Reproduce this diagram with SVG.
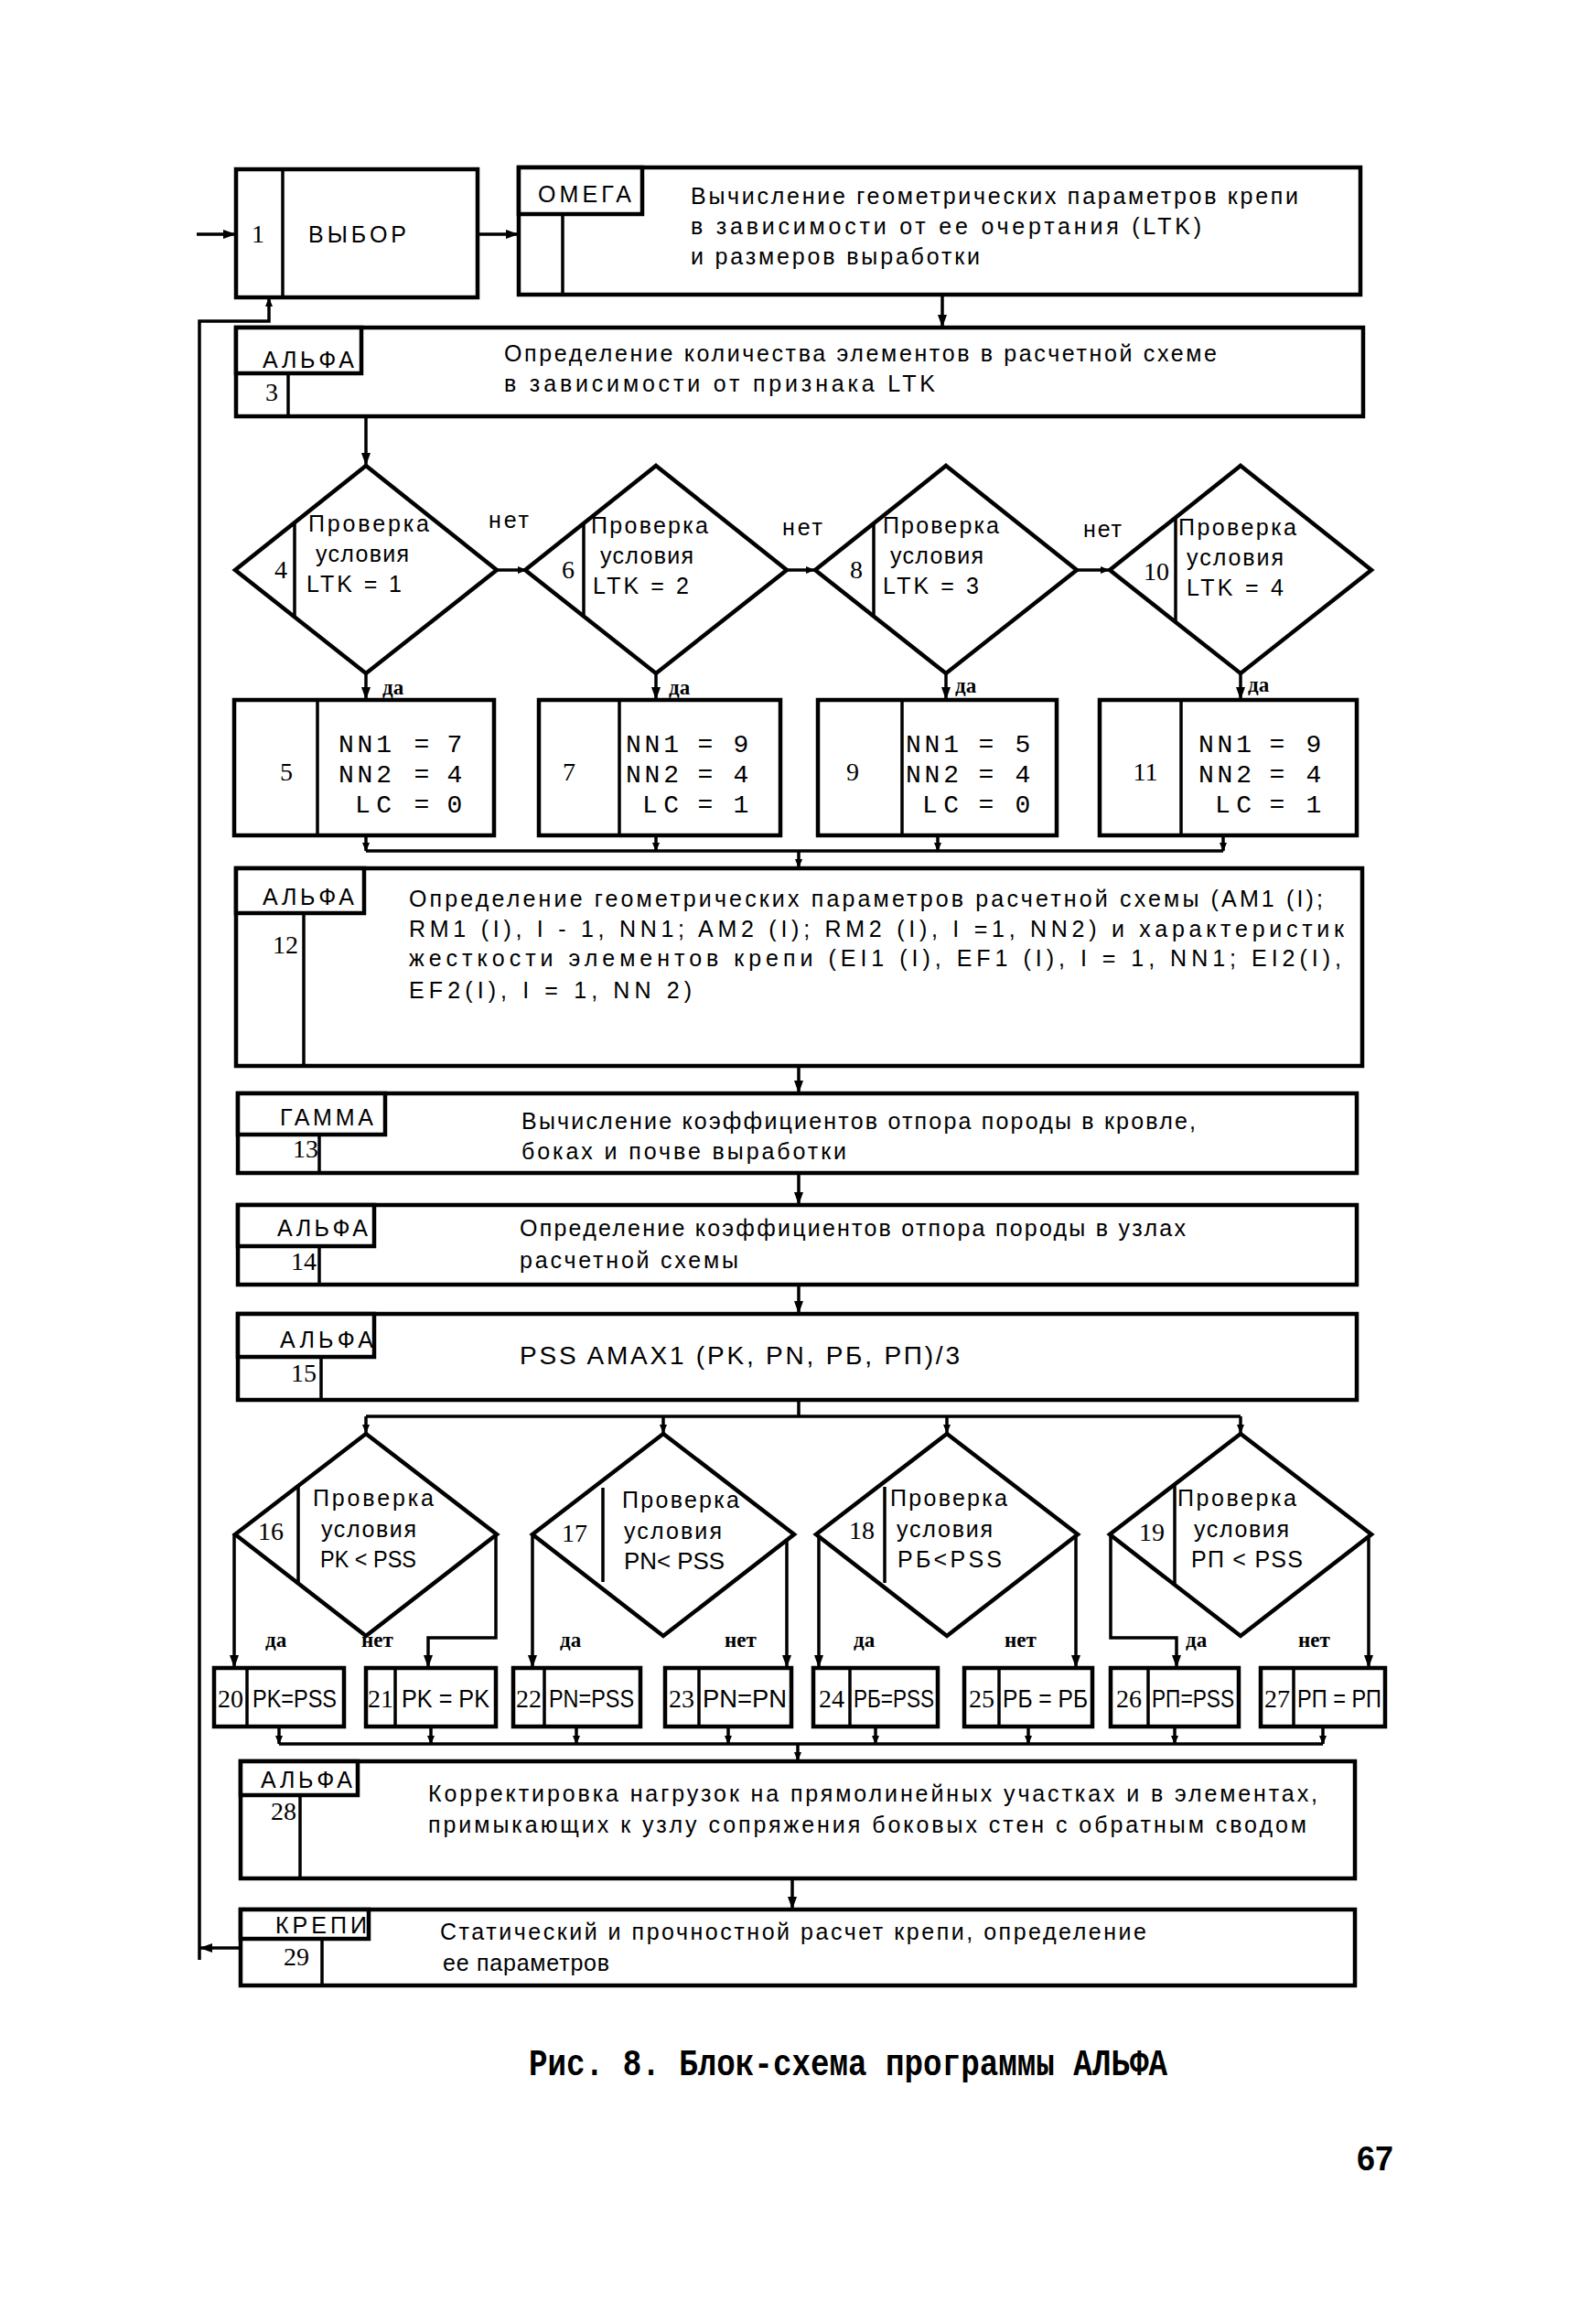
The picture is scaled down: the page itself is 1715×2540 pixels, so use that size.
<svg xmlns="http://www.w3.org/2000/svg" width="1715" height="2540" viewBox="0 0 1715 2540">
<style>
.b{fill:#fff;stroke:#000;stroke-width:4.5}
.d{fill:none;stroke:#000;stroke-width:3.5}
.c{fill:none;stroke:#000;stroke-width:3.5}
.t{font-family:"Liberation Sans",Arial,sans-serif;font-size:25px;fill:#000}
.n{font-family:"Liberation Serif","Times New Roman",serif;font-size:28px;fill:#000}
.m{font-family:"Liberation Mono","Courier New",monospace;font-size:28px;fill:#000}
.y{font-family:"Liberation Serif","Times New Roman",serif;font-size:23px;font-weight:bold;fill:#000}
.q{font-family:"Liberation Sans",Arial,sans-serif;font-size:28px;fill:#000}
.mid{text-anchor:middle}
.end{text-anchor:end}
</style>
<defs>
<marker id="a" markerWidth="14" markerHeight="10" refX="13" refY="5" orient="auto" markerUnits="userSpaceOnUse"><path d="M0,0 L14,5 L0,10 z" fill="#000"/></marker>
<marker id="s" markerWidth="10" markerHeight="8" refX="9" refY="4" orient="auto" markerUnits="userSpaceOnUse"><path d="M0,0 L10,4 L0,8 z" fill="#000"/></marker>
</defs>
<rect width="1715" height="2540" fill="#fff"/>

<g id="connectors">
<path class="c" d="M215,256 H257" marker-end="url(#a)"/>
<path class="c" d="M522,256 H566" marker-end="url(#a)"/>
<path class="c" d="M1030,322 V357" marker-end="url(#a)"/>
<path class="c" d="M400,455 V508" marker-end="url(#a)"/>
<path class="c" d="M543,623 H575" marker-end="url(#s)"/>
<path class="c" d="M860,623 H890" marker-end="url(#s)"/>
<path class="c" d="M1177,623 H1212" marker-end="url(#s)"/>
<path class="c" d="M400,736 V764" marker-end="url(#a)"/>
<path class="c" d="M717,736 V764" marker-end="url(#a)"/>
<path class="c" d="M1034,736 V764" marker-end="url(#a)"/>
<path class="c" d="M1356,736 V764" marker-end="url(#a)"/>
<path class="c" d="M400,913 V930" marker-end="url(#s)"/>
<path class="c" d="M717,913 V930" marker-end="url(#s)"/>
<path class="c" d="M1025,913 V930" marker-end="url(#s)"/>
<path class="c" d="M1337,913 V930" marker-end="url(#s)"/>
<path class="c" d="M400,930 H1337"/>
<path class="c" d="M873,930 V948" marker-end="url(#s)"/>
<path class="c" d="M873,1165 V1194" marker-end="url(#a)"/>
<path class="c" d="M873,1282 V1316" marker-end="url(#a)"/>
<path class="c" d="M873,1404 V1435" marker-end="url(#a)"/>
<path class="c" d="M873,1530 V1548"/>
<path class="c" d="M400,1548 H1356"/>
<path class="c" d="M400,1548 V1566" marker-end="url(#s)"/>
<path class="c" d="M725,1548 V1566" marker-end="url(#s)"/>
<path class="c" d="M1035,1548 V1566" marker-end="url(#s)"/>
<path class="c" d="M1356,1548 V1566" marker-end="url(#s)"/>
<path class="c" d="M256,1677 V1822" marker-end="url(#a)"/>
<path class="c" d="M542,1677 V1790 H468 V1822" marker-end="url(#a)"/>
<path class="c" d="M582,1677 V1822" marker-end="url(#a)"/>
<path class="c" d="M860,1684 V1822" marker-end="url(#a)"/>
<path class="c" d="M895,1678 V1822" marker-end="url(#a)"/>
<path class="c" d="M1176,1678 V1822" marker-end="url(#a)"/>
<path class="c" d="M1214,1677 V1790 H1286 V1822" marker-end="url(#a)"/>
<path class="c" d="M1496,1678 V1822" marker-end="url(#a)"/>
<path class="c" d="M305,1887 V1906" marker-end="url(#s)"/>
<path class="c" d="M471,1887 V1906" marker-end="url(#s)"/>
<path class="c" d="M630,1887 V1906" marker-end="url(#s)"/>
<path class="c" d="M796,1887 V1906" marker-end="url(#s)"/>
<path class="c" d="M957,1887 V1906" marker-end="url(#s)"/>
<path class="c" d="M1124,1887 V1906" marker-end="url(#s)"/>
<path class="c" d="M1284,1887 V1906" marker-end="url(#s)"/>
<path class="c" d="M1446,1887 V1906" marker-end="url(#s)"/>
<path class="c" d="M305,1906 H1446"/>
<path class="c" d="M872,1906 V1924" marker-end="url(#s)"/>
<path class="c" d="M866,2053 V2086" marker-end="url(#a)"/>
<path class="c" d="M263,2129 H219" marker-end="url(#a)"/>
<path class="c" d="M218,2142 V351 H294 V326" marker-end="url(#s)"/>
<text class="t" x="534" y="577" textLength="44">нет</text>
<text class="t" x="855" y="585" textLength="44">нет</text>
<text class="t" x="1184" y="587" textLength="42">нет</text>
<text class="y" x="418" y="759">да</text>
<text class="y" x="731" y="759">да</text>
<text class="y" x="1044" y="757">да</text>
<text class="y" x="1364" y="756">да</text>
<text class="y" x="290" y="1800">да</text>
<text class="y" x="395" y="1800">нет</text>
<text class="y" x="612" y="1800">да</text>
<text class="y" x="792" y="1800">нет</text>
<text class="y" x="933" y="1800">да</text>
<text class="y" x="1098" y="1800">нет</text>
<text class="y" x="1296" y="1800">да</text>
<text class="y" x="1419" y="1800">нет</text>
</g>

<g id="n1">
<rect class="b" x="258" y="185" width="264" height="140"/>
<path class="d" d="M309,185 V325"/>
<text class="n" x="275" y="265">1</text>
<text class="t" x="337" y="265" font-size="27" textLength="107">ВЫБОР</text>
</g>

<g id="n2">
<rect class="b" x="567" y="183" width="920" height="139"/>
<rect class="b" x="567" y="183" width="135" height="51"/>
<path class="d" d="M615,234 V322"/>
<text class="t" x="588" y="221" textLength="102">ОМЕГА</text>
<text class="t" x="755" y="223" textLength="664">Вычисление геометрических параметров крепи</text>
<text class="t" x="755" y="256" textLength="558">в зависимости от ее очертания (LTK)</text>
<text class="t" x="755" y="289" textLength="316">и размеров выработки</text>
</g>

<g id="n3">
<rect class="b" x="258" y="358" width="1232" height="97"/>
<rect class="b" x="258" y="358" width="137" height="50"/>
<path class="d" d="M315,408 V455"/>
<text class="t" x="287" y="402" textLength="100">АЛЬФА</text>
<text class="n" x="290" y="438">3</text>
<text class="t" x="551" y="395" textLength="779">Определение количества элементов в расчетной схеме</text>
<text class="t" x="551" y="428" textLength="471">в зависимости от признака LTK</text>
</g>

<g id="n4">
<polygon class="b" points="400,509 543,623 400,736 257,623"/>
<path class="d" d="M322,572 V674"/>
<text class="n" x="300" y="632">4</text>
<text class="t" x="337" y="581" textLength="132">Проверка</text>
<text class="t" x="345" y="614" textLength="102">условия</text>
<text class="t" x="335" y="647" textLength="104">LTK = 1</text>
</g>
<g id="n6">
<polygon class="b" points="717,509 860,623 717,736 574,623"/>
<path class="d" d="M638,572 V674"/>
<text class="n" x="614" y="632">6</text>
<text class="t" x="646" y="583" textLength="128">Проверка</text>
<text class="t" x="656" y="616" textLength="102">условия</text>
<text class="t" x="648" y="649" textLength="105">LTK = 2</text>
</g>
<g id="n8">
<polygon class="b" points="1034,509 1177,623 1034,736 891,623"/>
<path class="d" d="M955,572 V674"/>
<text class="n" x="929" y="632">8</text>
<text class="t" x="965" y="583" textLength="127">Проверка</text>
<text class="t" x="973" y="616" textLength="102">условия</text>
<text class="t" x="965" y="649" textLength="105">LTK = 3</text>
</g>
<g id="n10">
<polygon class="b" points="1356,509 1499,623 1356,736 1213,623"/>
<path class="d" d="M1285,566 V680"/>
<text class="n" x="1250" y="634">10</text>
<text class="t" x="1288" y="585" textLength="129">Проверка</text>
<text class="t" x="1297" y="618" textLength="106">условия</text>
<text class="t" x="1297" y="651" textLength="106">LTK = 4</text>
</g>

<g id="n5">
<rect class="b" x="256" y="765" width="284" height="148"/>
<path class="d" d="M347,765 V913"/>
<text class="n mid" x="313" y="853">5</text>
<text class="m end" x="428" y="822" textLength="58">NN1</text>
<text class="m mid" x="461" y="822">=</text>
<text class="m mid" x="497" y="822">7</text>
<text class="m end" x="428" y="855" textLength="58">NN2</text>
<text class="m mid" x="461" y="855">=</text>
<text class="m mid" x="497" y="855">4</text>
<text class="m end" x="428" y="888" textLength="40">LC</text>
<text class="m mid" x="461" y="888">=</text>
<text class="m mid" x="497" y="888">0</text>
</g>
<g id="n7">
<rect class="b" x="589" y="765" width="264" height="148"/>
<path class="d" d="M677,765 V913"/>
<text class="n mid" x="622" y="853">7</text>
<text class="m end" x="742" y="822" textLength="58">NN1</text>
<text class="m mid" x="771" y="822">=</text>
<text class="m mid" x="810" y="822">9</text>
<text class="m end" x="742" y="855" textLength="58">NN2</text>
<text class="m mid" x="771" y="855">=</text>
<text class="m mid" x="810" y="855">4</text>
<text class="m end" x="742" y="888" textLength="40">LC</text>
<text class="m mid" x="771" y="888">=</text>
<text class="m mid" x="810" y="888">1</text>
</g>
<g id="n9">
<rect class="b" x="894" y="765" width="261" height="148"/>
<path class="d" d="M986,765 V913"/>
<text class="n mid" x="932" y="853">9</text>
<text class="m end" x="1048" y="822" textLength="58">NN1</text>
<text class="m mid" x="1078" y="822">=</text>
<text class="m mid" x="1118" y="822">5</text>
<text class="m end" x="1048" y="855" textLength="58">NN2</text>
<text class="m mid" x="1078" y="855">=</text>
<text class="m mid" x="1118" y="855">4</text>
<text class="m end" x="1048" y="888" textLength="40">LC</text>
<text class="m mid" x="1078" y="888">=</text>
<text class="m mid" x="1118" y="888">0</text>
</g>
<g id="n11">
<rect class="b" x="1202" y="765" width="281" height="148"/>
<path class="d" d="M1291,765 V913"/>
<text class="n mid" x="1252" y="853">11</text>
<text class="m end" x="1368" y="822" textLength="58">NN1</text>
<text class="m mid" x="1396" y="822">=</text>
<text class="m mid" x="1436" y="822">9</text>
<text class="m end" x="1368" y="855" textLength="58">NN2</text>
<text class="m mid" x="1396" y="855">=</text>
<text class="m mid" x="1436" y="855">4</text>
<text class="m end" x="1368" y="888" textLength="40">LC</text>
<text class="m mid" x="1396" y="888">=</text>
<text class="m mid" x="1436" y="888">1</text>
</g>

<g id="n12">
<rect class="b" x="258" y="949" width="1231" height="216"/>
<rect class="b" x="258" y="949" width="140" height="49"/>
<path class="d" d="M332,998 V1165"/>
<text class="t" x="287" y="989" textLength="100">АЛЬФА</text>
<text class="n" x="298" y="1042">12</text>
<text class="t" x="447" y="991" textLength="999">Определение геометрических параметров расчетной схемы (AM1 (I);</text>
<text class="t" x="447" y="1024" textLength="1022">RM1 (I), I - 1, NN1; AM2 (I); RM2 (I), I =1, NN2) и характеристик</text>
<text class="t" x="447" y="1056" textLength="1019">жесткости элементов крепи (EI1 (I), EF1 (I), I = 1, NN1; EI2(I),</text>
<text class="t" x="447" y="1091" textLength="309">EF2(I), I = 1, NN 2)</text>
</g>

<g id="n13">
<rect class="b" x="260" y="1195" width="1223" height="87"/>
<rect class="b" x="260" y="1195" width="161" height="45"/>
<path class="d" d="M349,1240 V1282"/>
<text class="t" x="306" y="1230" textLength="102">ГАММА</text>
<text class="n" x="320" y="1265">13</text>
<text class="t" x="570" y="1234" textLength="737">Вычисление коэффициентов отпора породы в кровле,</text>
<text class="t" x="570" y="1267" textLength="355">боках и почве выработки</text>
</g>

<g id="n14">
<rect class="b" x="260" y="1317" width="1223" height="87"/>
<rect class="b" x="260" y="1317" width="149" height="45"/>
<path class="d" d="M349,1362 V1404"/>
<text class="t" x="303" y="1351" textLength="99">АЛЬФА</text>
<text class="n" x="318" y="1388">14</text>
<text class="t" x="568" y="1351" textLength="728">Определение коэффициентов отпора породы в узлах</text>
<text class="t" x="568" y="1386" textLength="239">расчетной схемы</text>
</g>

<g id="n15">
<rect class="b" x="260" y="1436" width="1223" height="94"/>
<rect class="b" x="260" y="1436" width="149" height="47"/>
<path class="d" d="M351,1483 V1530"/>
<text class="t" x="306" y="1473" textLength="102">АЛЬФА</text>
<text class="n" x="318" y="1510">15</text>
<text class="q" x="568" y="1491" textLength="481">PSS  AMAX1 (PK, PN, PБ, PП)/3</text>
</g>

<g id="n16">
<polygon class="b" points="400,1567 543,1677 400,1788 257,1677"/>
<path class="d" d="M326,1623 V1732"/>
<text class="n" x="282" y="1683">16</text>
<text class="t" x="342" y="1646" textLength="132">Проверка</text>
<text class="t" x="351" y="1680" textLength="104">условия</text>
<text class="t" x="350" y="1713" textLength="105" lengthAdjust="spacingAndGlyphs">PK &lt; PSS</text>
</g>
<g id="n17">
<polygon class="b" points="725,1567 868,1677 725,1788 582,1677"/>
<path class="d" d="M659,1626 V1729"/>
<text class="n" x="614" y="1685">17</text>
<text class="t" x="680" y="1648" textLength="128">Проверка</text>
<text class="t" x="682" y="1682" textLength="107">условия</text>
<text class="t" x="682" y="1715" textLength="110" lengthAdjust="spacingAndGlyphs">PN&lt; PSS</text>
</g>
<g id="n18">
<polygon class="b" points="1035,1567 1178,1677 1035,1788 892,1677"/>
<path class="d" d="M967,1625 V1730"/>
<text class="n" x="928" y="1682">18</text>
<text class="t" x="973" y="1646" textLength="128">Проверка</text>
<text class="t" x="980" y="1680" textLength="105">условия</text>
<text class="t" x="981" y="1713" textLength="114">PБ&lt;PSS</text>
</g>
<g id="n19">
<polygon class="b" points="1356,1567 1499,1677 1356,1788 1213,1677"/>
<path class="d" d="M1284,1622 V1733"/>
<text class="n" x="1245" y="1684">19</text>
<text class="t" x="1287" y="1646" textLength="130">Проверка</text>
<text class="t" x="1305" y="1680" textLength="104">условия</text>
<text class="t" x="1302" y="1713" textLength="122">PП &lt; PSS</text>
</g>

<g id="n20">
<rect class="b" x="234" y="1823" width="142" height="64"/>
<path class="d" d="M270,1823 V1887"/>
<text class="n mid" x="252" y="1866" font-size="25">20</text>
<text class="q" x="276" y="1866" textLength="92" lengthAdjust="spacingAndGlyphs">PK=PSS</text>
</g>
<g id="n21">
<rect class="b" x="400" y="1823" width="142" height="64"/>
<path class="d" d="M432,1823 V1887"/>
<text class="n mid" x="416" y="1866" font-size="25">21</text>
<text class="q" x="439" y="1866" textLength="96" lengthAdjust="spacingAndGlyphs">PK = PK</text>
</g>
<g id="n22">
<rect class="b" x="561" y="1823" width="139" height="64"/>
<path class="d" d="M595,1823 V1887"/>
<text class="n mid" x="578" y="1866" font-size="25">22</text>
<text class="q" x="600" y="1866" textLength="93" lengthAdjust="spacingAndGlyphs">PN=PSS</text>
</g>
<g id="n23">
<rect class="b" x="727" y="1823" width="138" height="64"/>
<path class="d" d="M764,1823 V1887"/>
<text class="n mid" x="745" y="1866" font-size="25">23</text>
<text class="q" x="768" y="1866" textLength="92" lengthAdjust="spacingAndGlyphs">PN=PN</text>
</g>
<g id="n24">
<rect class="b" x="889" y="1823" width="136" height="64"/>
<path class="d" d="M929,1823 V1887"/>
<text class="n mid" x="909" y="1866" font-size="25">24</text>
<text class="q" x="933" y="1866" textLength="88" lengthAdjust="spacingAndGlyphs">PБ=PSS</text>
</g>
<g id="n25">
<rect class="b" x="1054" y="1823" width="140" height="64"/>
<path class="d" d="M1092,1823 V1887"/>
<text class="n mid" x="1073" y="1866" font-size="25">25</text>
<text class="q" x="1096" y="1866" textLength="93" lengthAdjust="spacingAndGlyphs">PБ = PБ</text>
</g>
<g id="n26">
<rect class="b" x="1214" y="1823" width="140" height="64"/>
<path class="d" d="M1255,1823 V1887"/>
<text class="n mid" x="1234" y="1866" font-size="25">26</text>
<text class="q" x="1259" y="1866" textLength="90" lengthAdjust="spacingAndGlyphs">PП=PSS</text>
</g>
<g id="n27">
<rect class="b" x="1378" y="1823" width="136" height="64"/>
<path class="d" d="M1414,1823 V1887"/>
<text class="n mid" x="1396" y="1866" font-size="25">27</text>
<text class="q" x="1418" y="1866" textLength="92" lengthAdjust="spacingAndGlyphs">PП = PП</text>
</g>

<g id="n28">
<rect class="b" x="263" y="1925" width="1218" height="128"/>
<rect class="b" x="263" y="1925" width="128" height="37"/>
<path class="d" d="M328,1962 V2053"/>
<text class="t" x="285" y="1954" textLength="100">АЛЬФА</text>
<text class="n" x="296" y="1989">28</text>
<text class="t" x="468" y="1969" textLength="972">Корректировка нагрузок на прямолинейных участках и в элементах,</text>
<text class="t" x="468" y="2003" textLength="960">примыкающих к узлу сопряжения боковых стен с обратным сводом</text>
</g>

<g id="n29">
<rect class="b" x="263" y="2087" width="1218" height="83"/>
<rect class="b" x="263" y="2087" width="140" height="32"/>
<path class="d" d="M352,2119 V2170"/>
<text class="t" x="301" y="2113" textLength="100">КРЕПИ</text>
<text class="n" x="310" y="2148">29</text>
<text class="t" x="481" y="2120" textLength="772">Статический и прочностной расчет крепи, определение</text>
<text class="t" x="484" y="2154" textLength="182">ее параметров</text>
</g>

<text x="578" y="2268" font-family="'Liberation Mono','Courier New',monospace" font-size="40" font-weight="bold" textLength="698" lengthAdjust="spacingAndGlyphs">Рис. 8. Блок-схема программы АЛЬФА</text>
<text x="1483" y="2372" font-family="'Liberation Sans',Arial,sans-serif" font-size="36" font-weight="bold" textLength="40" lengthAdjust="spacingAndGlyphs">67</text>
</svg>
